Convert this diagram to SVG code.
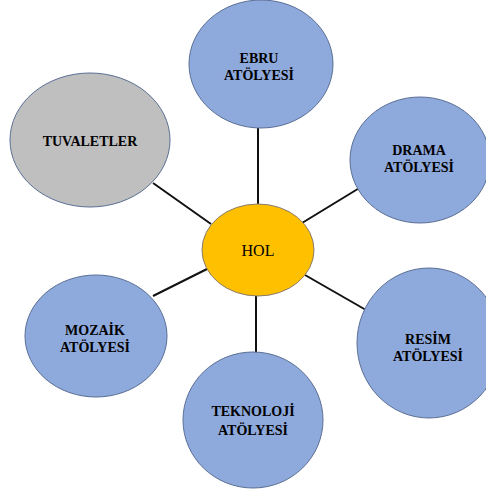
<svg xmlns="http://www.w3.org/2000/svg" width="486" height="492" viewBox="0 0 486 492">
<style>
.blue{fill:#8EA9DB;stroke:#5B6F95;stroke-width:1}
.grey{fill:#BFBFBF;stroke:#5B6F95;stroke-width:1}
.hol{fill:#FFC000;stroke:#8A7A6A;stroke-width:1}
.lbl{font-family:"Liberation Serif",serif;font-weight:bold;font-size:14px;fill:#000;text-anchor:middle}
.hl{font-family:"Liberation Serif",serif;font-size:16px;fill:#000;text-anchor:middle}
.conn line{stroke:#111;stroke-width:2}
</style>
<rect width="486" height="492" fill="#fff"/>
<g class="conn" id="connectors">
<line x1="258" y1="128" x2="258" y2="204"/>
<line x1="153" y1="183" x2="211" y2="224"/>
<line x1="361" y1="187" x2="302" y2="223"/>
<line x1="366" y1="310" x2="305" y2="275"/>
<line x1="256" y1="296" x2="256" y2="353"/>
<line x1="153" y1="296" x2="207" y2="269"/>
</g>
<g id="ebru">
<ellipse class="blue" cx="261" cy="64" rx="72" ry="64"/>
<text class="lbl" x="259" y="63">EBRU</text>
<text class="lbl" x="259" y="80">ATÖLYESİ</text>
</g>
<g id="tuvaletler">
<ellipse class="grey" cx="90" cy="140" rx="80" ry="67"/>
<text class="lbl" x="90" y="146">TUVALETLER</text>
</g>
<g id="drama">
<ellipse class="blue" cx="420" cy="160" rx="70" ry="63"/>
<text class="lbl" x="419" y="155">DRAMA</text>
<text class="lbl" x="419" y="172">ATÖLYESİ</text>
</g>
<g id="hol">
<ellipse class="hol" cx="258" cy="250" rx="56" ry="46"/>
<text class="hl" x="258" y="256">HOL</text>
</g>
<g id="resim">
<ellipse class="blue" cx="429" cy="343" rx="72" ry="75"/>
<text class="lbl" x="428" y="344">RESİM</text>
<text class="lbl" x="428" y="361">ATÖLYESİ</text>
</g>
<g id="mozaik">
<ellipse class="blue" cx="96" cy="336" rx="71" ry="61"/>
<text class="lbl" x="95" y="335">MOZAİK</text>
<text class="lbl" x="95" y="352">ATÖLYESİ</text>
</g>
<g id="teknoloji">
<ellipse class="blue" cx="253" cy="420" rx="70" ry="68"/>
<text class="lbl" x="253" y="416">TEKNOLOJİ</text>
<text class="lbl" x="253" y="435">ATÖLYESİ</text>
</g>
</svg>
